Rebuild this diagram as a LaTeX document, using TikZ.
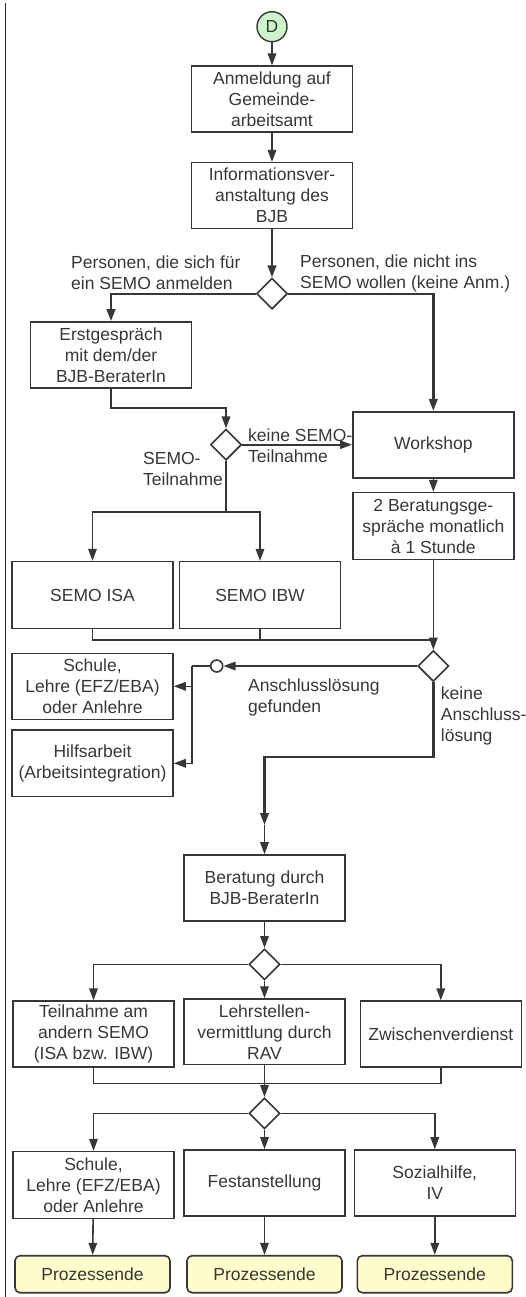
\documentclass[tikz,border=0pt]{standalone}
\usepackage{fontspec}
\setmainfont{Liberation Sans}
\usetikzlibrary{arrows.meta,shapes.geometric}
\definecolor{ink}{RGB}{55,55,55}
\definecolor{startgreen}{RGB}{204,245,204}
\definecolor{endyellow}{RGB}{255,253,204}
\tikzset{
	txt/.style={text=ink, font=\fontsize{17.5}{21}\selectfont},
	box/.style={txt, draw=ink, line width=1.6pt, minimum width=161pt, minimum height=66pt, inner sep=0pt, align=center},
	endbox/.style={box, rounded corners=5pt, fill=endyellow, minimum width=155pt, minimum height=37pt},
	decision/.style={diamond, draw=ink, line width=1.6pt, minimum width=31pt, minimum height=31pt, inner sep=0pt, fill=white},
	lbl/.style={txt, inner sep=0pt, align=left, anchor=west},
	conn/.style={draw=ink, line width=1.6pt},
	thickconn/.style={conn, line width=2.4pt},
	arr/.style={-{Triangle[length=12pt,width=8.5pt]}},
}

\begin{document}
\begin{tikzpicture}[x=1pt, y=-1pt]
			%%%%% START %%%%%
			\useasboundingbox (0,0) rectangle (525,1297);
			\draw[line width=1.5pt, black!85] (5.5,3) -- (5.5,1297);
			
			\node[circle, draw=ink, line width=1.4pt, fill=startgreen, minimum size=30pt, inner sep=0pt, txt] (start) at (272,26.7) {D};
			\node[box] (anm) at (272,99.2) {Anmeldung auf\\Gemeinde-\\arbeitsamt};
			\node[box] (info) at (272,195.7) {Informationsver-\\anstaltung des\\BJB};
			\node[decision] (d1) at (272,293.7) {};
			
			\node[lbl] (pja) at (71,273) {Personen, die sich für\\ein SEMO anmelden};
			\node[lbl] (pnein) at (300,273) {Personen, die nicht ins\\SEMO wollen (keine Anm.)};
			
			\node[box] (erst) at (111,355) {Erstgespräch\\mit dem/der\\BJB-BeraterIn};
			\node[decision] (d2) at (226,444.7) {};
			\node[box] (work) at (433.3,444.7) {Workshop};
			\node[box, minimum height=66.7pt] (ber2) at (433.3,526) {2 Beratungsge-\\spräche monatlich\\à 1 Stunde};
			
			\node[lbl] (keinsemo) at (248,446) {keine SEMO-\\Teilnahme};
			\node[lbl] (semo) at (143,469) {SEMO-\\Teilnahme};
			
			\node[box, minimum height=66.7pt] (isa) at (92.5,595) {SEMO ISA};
			\node[box, minimum height=66.7pt] (ibw) at (260,595) {SEMO IBW};
			
			\node[decision] (d3) at (433.3,666) {};
			\node[circle, draw=ink, line width=1.6pt, fill=white, minimum size=12pt, inner sep=0pt] (oc) at (216.7,666) {};
			\node[box] (sch1) at (92.5,686.3) {Schule,\\Lehre (EFZ/EBA)\\oder Anlehre};
			\node[box, minimum height=66.7pt] (hilf) at (92.5,763.3) {Hilfsarbeit\\(Arbeitsintegration)};
			
			\node[lbl] (gef) at (248,697.5) {Anschlusslösung\\gefunden};
			\node[lbl] (keinan) at (440.7,716) {keine\\Anschluss-\\lösung};
			
			\coordinate (k1) at (264.5,757);
			\coordinate (m) at (264.5,825);
			\node[box] (bjb) at (264.5,888) {Beratung durch\\BJB-BeraterIn};
			\node[decision] (d4) at (264.5,964.3) {};
			
			\node[box] (teil) at (93.5,1034.2) {Teilnahme am\\andern SEMO\\(ISA bzw. IBW)};
			\node[box, minimum height=65.3pt] (lehr) at (264.5,1031.7) {Lehrstellen-\\vermittlung durch\\RAV};
			\node[box] (zw) at (440.8,1034.2) {Zwischenverdienst};
			\node[decision] (d5) at (264.5,1113.3) {};
			
			\node[box, minimum height=66.7pt] (sch2) at (93.5,1185) {Schule,\\Lehre (EFZ/EBA)\\oder Anlehre};
			\node[box] (fest) at (264.5,1183) {Festanstellung};
			\node[box] (soz) at (434.8,1183) {Sozialhilfe,\\IV};
			
			\node[endbox] (pe1) at (92.5,1274.2) {Prozessende};
			\node[endbox] (pe2) at (264.5,1274.2) {Prozessende};
			\node[endbox] (pe3) at (434.8,1274.2) {Prozessende};
			
			% connectors
			\draw[conn, arr] (start) -- (anm);
			\draw[conn, arr] (anm) -- (info);
			\draw[thickconn, arr] (info) -- (d1);
			\draw[thickconn, arr] (d1.west) -| (erst.north);
			\draw[thickconn, arr] (d1.east) -| (work.north);
			\draw[conn, arr] (erst.south) -- ++(0,19) -| (d2.north);
			\draw[conn, arr] (d2.east) -- (work.west);
			\draw[conn] (d2.south) -- ++(0,51) coordinate (sp);
			\draw[conn, arr] (sp) -| (isa.north);
			\draw[conn, arr] (sp) -| (ibw.north);
			\draw[conn, arr] (work) -- (ber2);
			\draw[conn, arr] (ber2) -- (d3);
			\draw[conn] (isa.south) |- (d3.north |- 0,640);
			\draw[conn] (ibw.south) -- (ibw.south |- 0,640);
			
			\draw[conn, arr] (d3.west) -- (oc.east);
			\draw[conn] (oc.west) -- (191.7,666) coordinate (b1);
			\draw[conn, arr] (b1) |- (hilf.east);
			\draw[conn, arr] (b1 |- sch1.east) -- (sch1.east);
			
			\draw[thickconn, arr] (d3.south) |- (k1) -- (m);
			\draw[conn, arr] (m) -- (bjb.north);
			\draw[conn, arr] (bjb) -- (d4);
			\draw[conn, arr] (d4.west) -| (teil.north);
			\draw[conn, arr] (d4.east) -| (zw.north);
			\draw[conn, arr] (d4.south) -- (lehr.north);
			\draw[conn] (teil.south) -- ++(0,15.5) -| (zw.south);
			\draw[conn, arr] (lehr.south) -- (d5.north);
			\draw[conn, arr] (d5.west) -| (sch2.north);
			\draw[conn, arr] (d5.east) -| (soz.north);
			\draw[conn, arr] (d5.south) -- (fest.north);
			\draw[conn, arr] (sch2) -- (pe1);
			\draw[conn, arr] (fest) -- (pe2);
			\draw[conn, arr] (soz) -- (pe3);
			
			%%%%% END %%%%%
\end{tikzpicture}
\end{document}
